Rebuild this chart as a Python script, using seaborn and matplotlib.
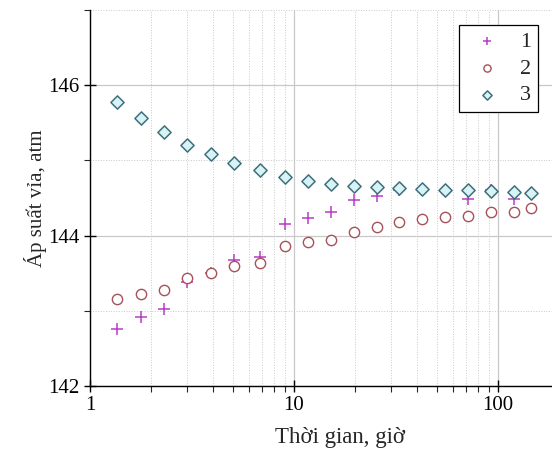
import numpy as np
import pandas as pd
import seaborn as sns
import matplotlib
matplotlib.use('Agg')
import matplotlib.pyplot as plt
from matplotlib.ticker import LogLocator, MultipleLocator, FuncFormatter, NullFormatter

# time points, hours
time_h = [1.36, 1.77, 2.30, 3.00, 3.92, 5.10, 6.79, 9.0, 11.7, 15.1,
          19.6, 25.4, 32.7, 42.4, 55.0, 71.0, 92.4, 120.0, 145.0]

# reservoir pressure, atm
p1 = [142.76, 142.92, 143.03, 143.38, 143.50, 143.68, 143.72, 144.16, 144.24, 144.31,
      144.47, 144.53, 144.60, 144.61, 144.59, 144.49, 144.60, 144.49, 144.56]
p2 = [143.16, 143.23, 143.28, 143.44, 143.50, 143.60, 143.63, 143.86, 143.92, 143.94,
      144.05, 144.12, 144.18, 144.22, 144.25, 144.26, 144.32, 144.32, 144.37]
p3 = [145.77, 145.57, 145.38, 145.21, 145.08, 144.97, 144.87, 144.78, 144.72, 144.69,
      144.66, 144.64, 144.63, 144.62, 144.61, 144.61, 144.59, 144.58, 144.56]

df = pd.DataFrame({'t': time_h, '1': p1, '2': p2, '3': p3})

sns.set_style('white')
plt.rcParams['font.family'] = ['Liberation Serif', 'DejaVu Serif']

fig = plt.figure(figsize=(5.52, 4.55), dpi=100)
ax = fig.add_axes([90 / 552, 1 - 386 / 455, 462 / 552, 376 / 455])

sns.scatterplot(data=df, x='t', y='1', ax=ax, marker='+', s=70, color='#b83cc8',
                linewidth=1.1, label='1', zorder=3)
sns.scatterplot(data=df, x='t', y='2', ax=ax, marker='o', s=55, facecolor='white',
                edgecolor='#a85058', linewidth=1.0, label='2', zorder=4)
sns.scatterplot(data=df, x='t', y='3', ax=ax, marker='D', s=45, facecolor='#d8f3f5',
                edgecolor='#3e6f7c', linewidth=1.1, label='3', zorder=5)

ax.set_xscale('log')
ax.set_xlim(1, 10 ** (462 / 204))
ax.set_ylim(142, 147)

ax.xaxis.set_major_locator(LogLocator(base=10, numticks=10))
ax.xaxis.set_minor_locator(LogLocator(base=10, subs=np.arange(2, 10), numticks=20))
ax.xaxis.set_major_formatter(FuncFormatter(lambda v, _: f'{v:g}'))
ax.xaxis.set_minor_formatter(NullFormatter())
ax.yaxis.set_major_locator(MultipleLocator(2))
ax.yaxis.set_minor_locator(MultipleLocator(1))

ax.grid(which='major', color='#c8c8c8', linewidth=0.9, linestyle='-')
ax.grid(which='minor', color='#c8c8c8', linewidth=0.7, linestyle=':')
ax.set_axisbelow(True)

for side in ['top', 'right']:
    ax.spines[side].set_visible(False)
for side in ['left', 'bottom']:
    ax.spines[side].set_color('black')
    ax.spines[side].set_linewidth(1.0)

ax.tick_params(which='major', direction='inout', length=8, width=1.0, labelsize=15,
               colors='black', left=True, bottom=True)
ax.tick_params(which='minor', direction='out', length=4, width=0.8, left=True, bottom=True)

ax.set_xlabel('Thời gian, giờ', fontsize=16.5, labelpad=10)
ax.xaxis.set_label_coords((340 - 90) / 462, -0.11, transform=ax.transAxes)
ax.xaxis.label.set_va('top')
ax.set_ylabel('Áp suất vỉa, atm', fontsize=15, labelpad=1)

leg = ax.legend(loc='upper right', bbox_to_anchor=(0.970, 0.960), borderaxespad=0,
                fontsize=16, frameon=True, fancybox=False, edgecolor='black', framealpha=1,
                handlelength=1.9, handletextpad=0.55, borderpad=0.3, labelspacing=0.27,
                markerscale=0.7)
leg.get_frame().set_linewidth(0.9)

fig.savefig('out.png', dpi=100)
